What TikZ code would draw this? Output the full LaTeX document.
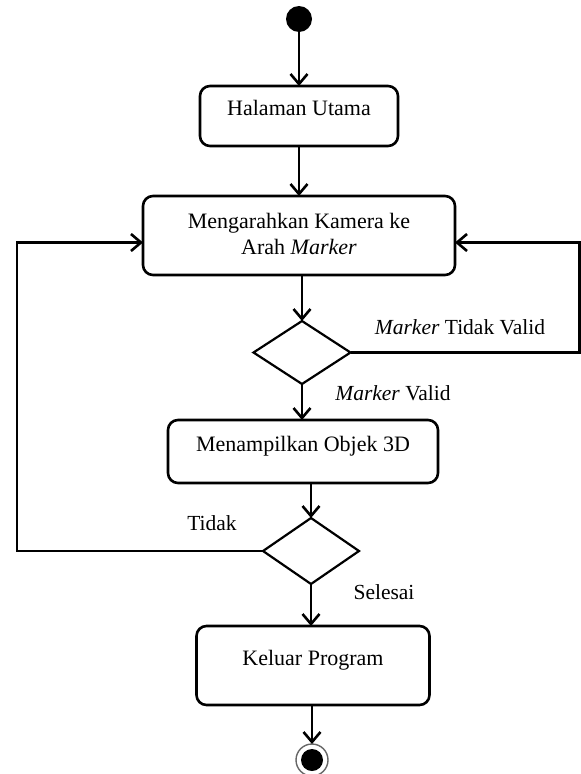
\documentclass[tikz,border=0pt]{standalone}
\usepackage{fontspec}
\setmainfont{Liberation Serif}
\usetikzlibrary{positioning,arrows.meta,shapes.geometric}
\tikzset{
  act/.style     = {draw, rounded corners=10pt, line width=2.6pt, align=center, outer sep=0pt,
                    font=\fontsize{22}{26}\selectfont, text depth=16pt},
  choice/.style  = {draw, diamond, line width=2.2pt, inner sep=0pt, outer sep=0pt,
                    minimum width=97pt, minimum height=63pt},
  initial/.style = {circle, fill=black, inner sep=0pt, outer sep=0pt, minimum size=26pt},
  final/.style   = {circle, draw=black!60, line width=1.4pt, inner sep=0pt, outer sep=0pt, minimum size=32pt,
                    path picture={\fill[black] (path picture bounding box.center) circle (11pt);}},
  lbl/.style     = {inner sep=0pt, font=\fontsize{21.5}{26}\selectfont},
  arrow/.style   = {-{Straight Barb[length=10pt,width=17pt]}, line width=2.6pt},
}
\begin{document}
\begin{tikzpicture}[x=1pt,y=1pt]
  \useasboundingbox (0,0) rectangle (581,-774);
  \node[initial] (start) at (299,-19) {};
  \node[act, below=54pt of start, minimum width=198pt, minimum height=60pt] (home) {Halaman Utama};
  \node[act, below=50pt of home, minimum width=312pt, minimum height=79pt, text depth=3pt] (camera)
       {Mengarahkan Kamera ke \\ Arah \textit{Marker}};
  \node[choice, below=46pt of camera, xshift=3pt] (valid) {};
  \node[act, below=36pt of valid, xshift=1pt, minimum width=270pt, minimum height=63pt] (objek) {Menampilkan Objek 3D};
  \node[choice, below=35pt of objek, xshift=8pt, minimum width=96pt, minimum height=66pt] (done) {};
  \node[act, below=42pt of done, xshift=2pt, minimum width=233pt, minimum height=79pt] (keluar) {Keluar Program};
  \node[final, below=39pt of keluar, xshift=-1pt] (end) {};

  \draw[arrow] (start) -- (home);
  \draw[arrow] (home) -- (camera);
  \draw[arrow] (camera.south -| valid.north) -- (valid.north);
  \draw[arrow] (valid.south) -- (valid.south |- objek.north);
  \draw[arrow] (objek.south -| done.north) -- (done.north);
  \draw[arrow] (done.south) -- (done.south |- keluar.north);
  \draw[arrow] (keluar.south -| end.north) -- (end.north);
  \draw[arrow] (valid.east) -- ++(229,0) |- ([yshift=-7pt]camera.east);
  \draw[arrow] (done.west) -- ++(-246,0) |- ([yshift=-7pt]camera.west);

  \node[lbl] (invalid) at (460,-327) {\textit{Marker} Tidak Valid};
  \node[lbl] (isvalid) at (393,-393) {\textit{Marker} Valid};
  \node[lbl] (tidak)   at (212,-523) {Tidak};
  \node[lbl] (selesai) at (384,-592) {Selesai};
\end{tikzpicture}
\end{document}
